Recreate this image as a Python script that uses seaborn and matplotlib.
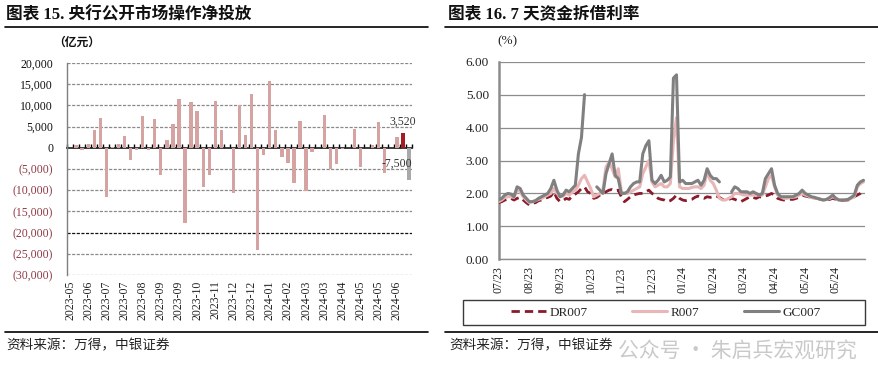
import numpy as np
import pandas as pd
import matplotlib
matplotlib.use('Agg')
import matplotlib.pyplot as plt
import seaborn as sns
from matplotlib.lines import Line2D
from matplotlib.patches import Rectangle
from matplotlib.ticker import FuncFormatter, FormatStrFormatter

sns.set_theme(style='white')
plt.rcParams['font.family'] = ['Liberation Serif', 'Noto Sans CJK SC']
plt.rcParams['axes.unicode_minus'] = False

# ---------------- data: left panel (weekly net injection, 亿元) ----------------
week_values = [0, 600, -550, 800, 4100, 7050, -11500, 100, 850, 2900,
               -2800, -500, 7600, -600, 6800, -6500, 1800, 5500, 11600, -17800,
               10700, 8600, -9200, -6300, 11100, 4100, 0, -10600, 10000, 3100,
               12700, -24200, -1700, 15700, 4150, -2200, -3500, -8300, 6350, -10300,
               -900, 0, 7800, -5100, -3900, -300, 0, 4400, -4500, 0,
               750, 6100, -5900, 0, 2650, 3520, -7500]
week_tick_labels = ['2023-05', '2023-06', '2023-07', '2023-07', '2023-08', '2023-09',
                    '2023-09', '2023-10', '2023-11', '2023-12', '2023-12', '2024-01',
                    '2024-02', '2024-03', '2024-03', '2024-04', '2024-05', '2024-05',
                    '2024-06']

# ---------------- data: right panel (7-day rates, %) ----------------
trading_day = list(range(0, 240, 2))
dr007 = [1.72, 1.75, 1.80, 1.82, 1.85, 1.80, 1.85, 1.88, 1.80, 1.72,
         1.65, 1.70, 1.72, 1.78, 1.80, 1.85, 1.88, 1.92, 2.05, 1.85,
         1.75, 1.78, 1.85, 1.82, 1.92, 1.98, 2.05, 2.15, 2.20, 2.05,
         2.00, 1.85, 1.88, 1.95, 2.00, 2.05, 2.10, 2.12, 2.08, 2.10,
         1.90, 1.75, 1.82, 1.90, 1.95, 1.98, 2.00, 2.00, 2.05, 2.10,
         2.00, 1.95, 1.85, 1.82, 1.80, 1.75, 1.78, 1.85, 1.95, 1.85,
         1.80, 1.78, 1.80, 1.82, 1.88, 1.92, 1.88, 1.85, 1.90, 1.88,
         1.90, 1.92, 1.88, 1.82, 1.80, 1.82, 1.85, 1.82, 1.78, 1.75,
         1.80, 1.85, 1.90, 1.88, 1.85, 1.90, 1.88, 1.92, 1.95, 2.00,
         1.95, 1.85, 1.82, 1.80, 1.80, 1.82, 1.82, 1.85, 1.88, 1.95,
         1.92, 1.90, 1.88, 1.85, 1.85, 1.82, 1.80, 1.80, 1.82, 1.85,
         1.82, 1.80, 1.78, 1.80, 1.80, 1.85, 1.90, 1.95, 2.00, 2.10]
r007 = [1.75, 1.80, 1.88, 1.90, 1.90, 1.88, 2.10, 2.05, 1.90, 1.80,
        1.72, 1.75, 1.78, 1.82, 1.85, 1.90, 1.95, 2.00, 2.15, 2.00,
        1.90, 1.92, 2.00, 1.95, 2.05, 2.10, 2.25, 2.45, 2.55, 2.35,
        2.15, 1.90, 1.95, 2.00, 2.10, 2.80, 2.95, 2.75, 2.50, 2.75,
        2.05, 2.00, 2.00, 2.05, 2.10, 2.15, 2.20, 2.60, 2.80, 3.00,
        2.35, 2.20, 2.25, 2.30, 2.20, 2.20, 2.30, 3.60, 4.30, 2.20,
        2.15, 2.15, 2.15, 2.18, 2.20, 2.20, 2.15, 2.25, 2.65, 2.40,
        2.30, 2.10, 1.85, 1.80, 1.80, 1.85, 1.90, 2.00, 2.00, 1.98,
        1.95, 1.95, 1.95, 1.95, 1.95, 1.95, 1.95, 2.20, 2.45, 2.55,
        2.20, 1.95, 1.90, 1.85, 1.85, 1.88, 1.88, 1.90, 1.95, 2.00,
        1.95, 1.92, 1.88, 1.85, 1.85, 1.82, 1.80, 1.82, 1.85, 1.90,
        1.85, 1.80, 1.80, 1.80, 1.82, 1.85, 1.90, 2.20, 2.30, 2.35]
gc007 = [1.80, 1.85, 1.95, 2.00, 1.98, 1.90, 2.20, 2.15, 1.95, 1.85,
         1.75, 1.75, 1.78, 1.85, 1.90, 1.95, 2.00, 2.15, 2.40, 2.10,
         1.90, 1.95, 2.10, 2.05, 2.15, 2.25, 3.20, 3.70, 5.00, np.nan,
         np.nan, np.nan, 2.20, 2.10, 2.00, 2.60, 2.90, 3.20, 2.55, 2.45,
         2.00, 2.00, 2.05, 2.20, 2.30, 2.35, 2.35, 3.20, 3.45, 3.60,
         2.40, 2.30, 2.40, 2.55, 2.35, 2.40, 2.50, 5.50, 5.60, 2.35,
         2.40, 2.30, 2.30, 2.30, 2.35, 2.40, 2.25, 2.40, 2.75, 2.55,
         2.45, 2.45, 2.35, np.nan, np.nan, np.nan, 2.05, 2.20, 2.15, 2.05,
         2.05, 2.05, 2.00, 2.05, 2.00, 1.95, 2.00, 2.45, 2.60, 2.75,
         2.25, 2.00, 1.90, 1.90, 1.90, 1.90, 1.90, 1.95, 2.00, 2.10,
         2.00, 1.95, 1.90, 1.88, 1.85, 1.82, 1.80, 1.82, 1.88, 1.95,
         1.85, 1.80, 1.80, 1.80, 1.82, 1.88, 1.95, 2.25, 2.35, 2.40]
rate_tick_labels = ['07/23', '08/23', '09/23', '10/23', '11/23', '12/23',
                    '01/24', '02/24', '03/24', '04/24', '05/24', '05/24']
series_names = ['DR007', 'R007', 'GC007']

W, H = 879, 384
fig = plt.figure(figsize=(W / 100, H / 100), dpi=100)
fig.patch.set_facecolor('white')

def fx(px):
    return px / W

def fy(py):
    return 1 - py / H

CJK = ['Liberation Serif', 'Noto Sans CJK SC']

# ---------------- titles / rules / sources ----------------
fig.text(fx(6), fy(15), '图表 15. 央行公开市场操作净投放', fontsize=12, fontweight='bold',
         family=CJK, ha='left', va='center', color='#111111')
fig.text(fx(448), fy(15), '图表 16. 7 天资金拆借利率', fontsize=12, fontweight='bold',
         family=CJK, ha='left', va='center', color='#111111')
for x0, x1 in [(5, 428), (445, 879)]:
    fig.add_artist(Line2D([fx(x0), fx(x1)], [fy(27), fy(27)], color='black', lw=1.2,
                          transform=fig.transFigure))
    fig.add_artist(Line2D([fx(x0), fx(x1)], [fy(332), fy(332)], color='black', lw=1.2,
                          transform=fig.transFigure))
fig.text(fx(6), fy(345), '资料来源：万得，中银证券', fontsize=9.8, family=['Noto Sans CJK SC'],
         ha='left', va='center', color='#222222')
fig.text(fx(449), fy(345), '资料来源：万得，中银证券', fontsize=9.8, family=['Noto Sans CJK SC'],
         ha='left', va='center', color='#222222')
fig.text(fx(618), fy(352), '公众号 · 朱启兵宏观研究', fontsize=15, family=['Noto Sans CJK SC'],
         ha='left', va='center', color='#c4c4c4', alpha=0.9)
fig.text(fx(53), fy(42), '（亿元）', fontsize=8.5, fontweight='bold', family=['Noto Sans CJK SC'],
         ha='left', va='center', color='#111111')
fig.text(fx(497), fy(41), '(%)', fontsize=9.5, family=CJK, ha='left', va='center', color='#222222')

# ---------------- left panel ----------------
axL = fig.add_axes([fx(67), fy(275), fx(412 - 67), (275 - 63) / H])
n = len(week_values)
df_bar = pd.DataFrame({'week': list(range(n)), 'value': week_values})
sns.barplot(data=df_bar, x='week', y='value', color='#d6a3a3', width=0.55,
            saturation=1, linewidth=0, edgecolor='none', ax=axL, zorder=3)
bars = axL.patches
bars[-2].set_facecolor('#a31d24')
bars[-1].set_facecolor('#a9a9a9')
axL.set_xlim(-0.5, n - 0.5)
axL.set_ylim(-30000, 20000)
yt = list(range(-30000, 20001, 5000))
axL.set_yticks(yt)
axL.yaxis.set_major_formatter(FuncFormatter(
    lambda v, p: f'({abs(v):,.0f})' if v < 0 else f'{v:,.0f}'))
axL.set_xticks(list(range(0, n, 3)))
axL.set_xticklabels(week_tick_labels, rotation=90)
axL.tick_params(axis='x', length=0, pad=4, labelsize=8.5, colors='#222222')
axL.tick_params(axis='y', length=0, pad=10, labelsize=8.5)
for lbl, v in zip(axL.get_yticklabels(), yt):
    lbl.set_color('#8e3a45' if v < 0 else '#111111')
axL.set_xlabel('')
axL.set_ylabel('')
axL.grid(axis='y', linestyle=(0, (2.5, 1.2)), color='#8a8a8a', lw=0.9, zorder=0)
axL.grid(axis='x', visible=False)
for t, gl in zip(yt, axL.yaxis.get_gridlines()):
    if t == -20000:
        gl.set_color('#111111')
    if t == 0:
        gl.set_visible(False)
for s in ['top', 'right', 'bottom']:
    axL.spines[s].set_visible(False)
axL.spines['left'].set_color('#7f7f7f')
axL.spines['left'].set_linewidth(1.0)
axL.set_facecolor('white')
sec = axL.secondary_xaxis(0.6)
sec.set_xticks(np.arange(-0.5, n, 1.0))
sec.set_xticklabels([])
sec.tick_params(axis='x', length=3, width=1, direction='out', color='black')
sec.spines['bottom'].set_color('black')
sec.spines['bottom'].set_linewidth(1.2)
axL.text(n - 2, week_values[-2] + 1100, f'{week_values[-2]:,}', ha='center', va='bottom',
         fontsize=8.5, color='#333333')
axL.text(n - 0.55, -3700, f'{week_values[-1]:,}', ha='right', va='center',
         fontsize=8.5, color='#333333')

# ---------------- right panel ----------------
axR = fig.add_axes([fx(498.7), fy(259.3), fx(865 - 498.7), (259.3 - 61.7) / H])
frames = []
for name, vals in zip(series_names, [dr007, r007, gc007]):
    seg, segs = 0, []
    for v in vals:
        if np.isnan(v):
            seg += 1
        segs.append(seg)
    frames.append(pd.DataFrame({'day': trading_day, 'rate': vals, 'series': name, 'seg': segs}))
df_rate = pd.concat(frames, ignore_index=True).dropna()
styles = {'DR007': dict(color='#8b1a2b', lw=2.0, dashes=(3, 1.8)),
          'R007': dict(color='#e8b6b6', lw=2.2, dashes=None),
          'GC007': dict(color='#808080', lw=2.2, dashes=None)}
handles = []
for name in series_names:
    st = styles[name]
    sub = df_rate[df_rate['series'] == name]
    before = len(axR.get_lines())
    sns.lineplot(data=sub, x='day', y='rate', units='seg', estimator=None,
                 color=st['color'], lw=st['lw'], ax=axR, zorder=3, legend=False)
    h = Line2D([], [], color=st['color'], lw=st['lw'])
    if st['dashes'] is not None:
        for ln in axR.get_lines()[before:]:
            ln.set_dashes(st['dashes'])
        h.set_dashes(st['dashes'])
    handles.append(h)
axR.set_xlim(0, 239)
axR.set_ylim(0, 6)
axR.set_yticks(range(0, 7))
axR.yaxis.set_major_formatter(FormatStrFormatter('%.2f'))
axR.set_xticks(list(range(0, 240, 20)))
axR.set_xticklabels(rate_tick_labels, rotation=90)
axR.tick_params(axis='x', length=4, width=1, direction='out', color='#808080', pad=1,
                labelsize=8.5, labelcolor='#222222')
axR.tick_params(axis='y', length=0, pad=7, labelsize=9.5, labelcolor='#222222')
axR.set_xlabel('')
axR.set_ylabel('')
axR.grid(axis='y', linestyle='-', color='#8c8c8c', lw=0.9, zorder=0)
axR.grid(axis='x', visible=False)
for s in ['top', 'right']:
    axR.spines[s].set_visible(False)
axR.spines['left'].set_color('#8c8c8c')
axR.spines['left'].set_linewidth(1.8)
axR.spines['bottom'].set_color('#8c8c8c')
axR.spines['bottom'].set_linewidth(1.0)
axR.set_facecolor('white')

fig.add_artist(Rectangle((fx(463), fy(325)), fx(865 - 463), 25 / H, transform=fig.transFigure,
                         fill=False, ec='#3a3a3a', lw=1.0))
fig.legend(handles, series_names, loc='center', bbox_to_anchor=(fx(666), fy(312.5)),
           ncol=3, frameon=False, fontsize=9.5, handlelength=2.6, columnspacing=3.4,
           handletextpad=0.3, borderpad=0)

fig.savefig('out.png', dpi=100, facecolor='white')
